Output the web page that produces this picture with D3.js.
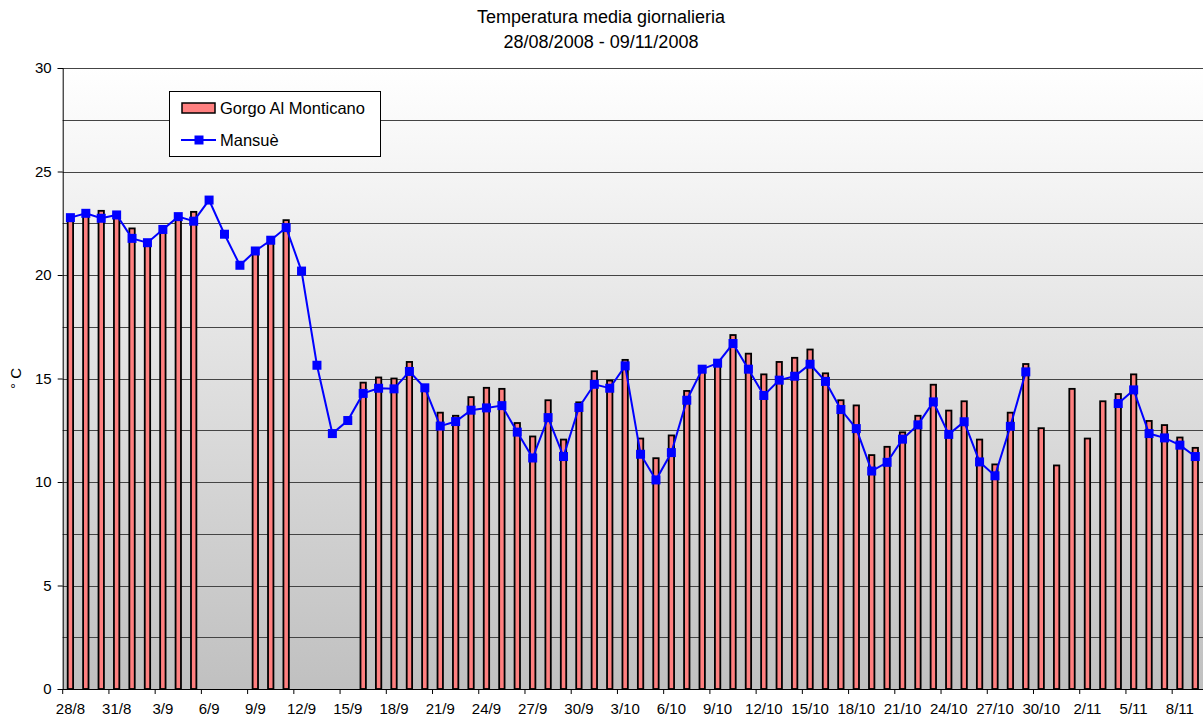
<!DOCTYPE html>
<html>
<head>
<meta charset="utf-8">
<script src="https://cdn.jsdelivr.net/npm/d3@7"></script>
<style>
  body { margin: 0; background: #fff; }
  text { font-family: "Liberation Sans", Arial, sans-serif; fill: #000; }
</style>
</head>
<body>
<div id="chart"></div>
<script>
const days = [
  "28/8", "29/8", "30/8", "31/8",
  "1/9", "2/9", "3/9", "4/9", "5/9", "6/9", "7/9", "8/9", "9/9", "10/9",
  "11/9", "12/9", "13/9", "14/9", "15/9", "16/9", "17/9", "18/9", "19/9", "20/9",
  "21/9", "22/9", "23/9", "24/9", "25/9", "26/9", "27/9", "28/9", "29/9", "30/9",
  "1/10", "2/10", "3/10", "4/10", "5/10", "6/10", "7/10", "8/10", "9/10", "10/10",
  "11/10", "12/10", "13/10", "14/10", "15/10", "16/10", "17/10", "18/10", "19/10", "20/10",
  "21/10", "22/10", "23/10", "24/10", "25/10", "26/10", "27/10", "28/10", "29/10", "30/10", "31/10",
  "1/11", "2/11", "3/11", "4/11", "5/11", "6/11", "7/11", "8/11", "9/11"
];

// Gorgo Al Monticano (bars), null = no data
const gorgo = [
  22.8, 22.95, 23.1, 23.05, 22.25, 21.5, 22.2, 22.75, 23.05, null,
  null, null, 21.15, 21.6, 22.65, null, null, null, null, 14.8,
  15.05, 15.0, 15.8, 14.65, 13.35, 13.2, 14.1, 14.55, 14.5, 12.85,
  12.2, 13.95, 12.05, 13.85, 15.35, 14.9, 15.9, 12.1, 11.15, 12.25,
  14.4, 15.5, 15.75, 17.1, 16.2, 15.2, 15.8, 16.0, 16.4, 15.25,
  13.95, 13.7, 11.3, 11.7, 12.4, 13.2, 14.7, 13.45, 13.9, 12.05,
  10.85, 13.35, 15.7, 12.6, 10.8, 14.5, 12.1, 13.9, 14.25, 15.2,
  12.95, 12.75, 12.15, 11.65
];

// Mansuè (line)
const mansue = [
  22.77, 22.98, 22.74, 22.9, 21.77, 21.56, 22.2, 22.82, 22.6, 23.62,
  21.97, 20.47, 21.16, 21.68, 22.29, 20.19, 15.64, 12.34, 12.97, 14.28,
  14.53, 14.5, 15.34, 14.55, 12.7, 12.92, 13.47, 13.58, 13.69, 12.41,
  11.16, 13.11, 11.23, 13.6, 14.72, 14.53, 15.61, 11.34, 10.1, 11.42,
  13.95, 15.45, 15.74, 16.69, 15.45, 14.18, 14.92, 15.11, 15.69, 14.86,
  13.5, 12.58, 10.53, 10.95, 12.07, 12.76, 13.87, 12.3, 12.91, 10.97,
  10.3, 12.69, 15.32, null, null, null, null, null, 13.79, 14.45,
  12.34, 12.13, 11.78, 11.23
];

const yTicks = [0, 5, 10, 15, 20, 25, 30];
const yGrid = [2.5, 5, 7.5, 10, 12.5, 15, 17.5, 20, 22.5, 25, 27.5, 30];

const width = 1203, height = 722;
const plotL = 62.7, plotR = 1203, plotT = 68, plotB = 689;

const svg = d3.select("#chart").append("svg")
  .attr("width", width).attr("height", height);

const x = d3.scaleBand().domain(d3.range(days.length)).range([plotL, plotR]);
const y = d3.scaleLinear().domain([0, 30]).range([plotB, plotT]);

// plot background gradient
const grad = svg.append("defs").append("linearGradient")
  .attr("id", "bg").attr("x1", 0).attr("y1", 0).attr("x2", 0).attr("y2", 1);
grad.append("stop").attr("offset", "0%").attr("stop-color", "#ffffff");
grad.append("stop").attr("offset", "100%").attr("stop-color", "#c0c0c0");

svg.append("rect")
  .attr("x", plotL).attr("y", plotT)
  .attr("width", plotR - plotL).attr("height", plotB - plotT)
  .attr("fill", "url(#bg)");

// gridlines
svg.selectAll(".grid").data(yGrid).join("line")
  .attr("x1", plotL).attr("x2", plotR)
  .attr("y1", d => Math.round(y(d)) + 0.5).attr("y2", d => Math.round(y(d)) + 0.5)
  .attr("stroke", "#444").attr("stroke-width", 1);

// bars
const bw = 5.4;
svg.selectAll(".bar").data(gorgo.map((v, i) => ({ v, i })).filter(d => d.v != null)).join("rect")
  .attr("x", d => x(d.i) + (x.bandwidth() - bw) / 2)
  .attr("y", d => y(d.v))
  .attr("width", bw)
  .attr("height", d => y(0) - y(d.v))
  .attr("fill", "#ff8080")
  .attr("stroke", "#000")
  .attr("stroke-width", 1.8);

// axes
const xAxis = d3.axisBottom(x)
  .tickValues(d3.range(0, days.length, 3))
  .tickFormat(i => days[i])
  .tickSize(0).tickPadding(14);
const gx = svg.append("g").attr("transform", `translate(0,${plotB})`).call(xAxis);
gx.select(".domain").remove();
gx.selectAll("text").style("font-size", "15px");

// x tick marks at category boundaries
svg.selectAll(".xtick").data(d3.range(0, days.length, 3)).join("line")
  .attr("x1", i => x(i)).attr("x2", i => x(i))
  .attr("y1", plotB).attr("y2", plotB + 5)
  .attr("stroke", "#000");

svg.append("line")
  .attr("x1", plotL).attr("x2", plotR).attr("y1", plotB + 0.5).attr("y2", plotB + 0.5)
  .attr("stroke", "#000").attr("stroke-width", 1);

const yAxis = d3.axisLeft(y).tickValues(yTicks).tickSize(5).tickPadding(6);
const gy = svg.append("g").attr("transform", `translate(${plotL},0)`).call(yAxis);
gy.select(".domain").attr("stroke", "#000");
gy.selectAll("text").style("font-size", "15px");

svg.append("text")
  .attr("transform", `translate(21,${(plotT + plotB) / 2}) rotate(-90)`)
  .attr("text-anchor", "middle")
  .style("font-size", "15px")
  .text("° C");

// Mansuè line
const line = d3.line()
  .defined(d => d != null)
  .x((d, i) => x(i) + x.bandwidth() / 2)
  .y(d => y(d));

svg.append("path")
  .datum(mansue)
  .attr("d", line)
  .attr("fill", "none")
  .attr("stroke", "#0000ff")
  .attr("stroke-width", 2);

const ms = 9;
svg.selectAll(".pt").data(mansue.map((v, i) => ({ v, i })).filter(d => d.v != null)).join("rect")
  .attr("x", d => x(d.i) + x.bandwidth() / 2 - ms / 2)
  .attr("y", d => y(d.v) - ms / 2)
  .attr("width", ms).attr("height", ms)
  .attr("fill", "#0000ff");

// title
svg.append("text").attr("x", 601).attr("y", 23).attr("text-anchor", "middle")
  .style("font-size", "18px").text("Temperatura media giornalieria");
svg.append("text").attr("x", 601).attr("y", 48).attr("text-anchor", "middle")
  .style("font-size", "18px").text("28/08/2008 - 09/11/2008");

// legend
const lg = svg.append("g");
lg.append("rect").attr("x", 169.5).attr("y", 91.5).attr("width", 211).attr("height", 65)
  .attr("fill", "#fff").attr("stroke", "#000");
lg.append("rect").attr("x", 182).attr("y", 103).attr("width", 33).attr("height", 10)
  .attr("fill", "#ff8080").attr("stroke", "#000").attr("stroke-width", 1.5);
lg.append("text").attr("x", 220).attr("y", 114).style("font-size", "16.5px").text("Gorgo Al Monticano");
lg.append("line").attr("x1", 181).attr("x2", 216).attr("y1", 140).attr("y2", 140)
  .attr("stroke", "#0000ff").attr("stroke-width", 2);
lg.append("rect").attr("x", 194.5).attr("y", 135.5).attr("width", 9).attr("height", 9).attr("fill", "#0000ff");
lg.append("text").attr("x", 220).attr("y", 146).style("font-size", "16.5px").text("Mansuè");
</script>
</body>
</html>
